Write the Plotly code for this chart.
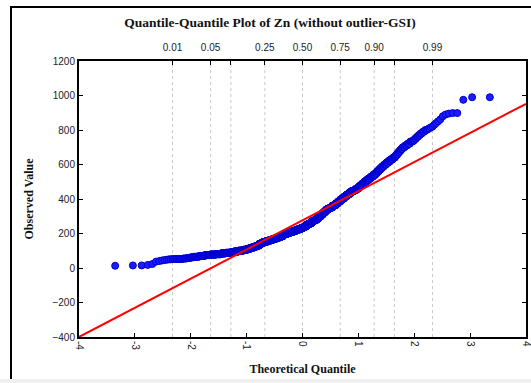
import plotly.graph_objects as go
from statistics import NormalDist

# Observed Zn values (sorted distinct levels) and how many samples share each level
zn_values = [13, 15, 18, 20, 23, 37, 40, 44, 46, 48, 50, 52,
             55, 58, 62, 65, 70, 75, 78, 80, 85, 88,
             90, 95, 100, 105, 110, 115, 120, 125, 130, 140, 145,
             150, 155, 160, 165, 170, 175, 180, 185,
             195, 200, 205, 210, 215, 220, 225, 230,
             235, 240, 250, 255, 260, 270, 275, 280, 290, 300,
             310, 320, 330, 340, 345, 350, 360, 365, 375, 385,
             395, 405, 415, 425, 435, 445, 450, 460,
             470, 480, 490, 500, 510, 520, 530, 540,
             550, 560, 570, 580, 590, 600, 610, 620, 630, 640,
             650, 660, 670, 680, 690, 700, 710, 720, 733,
             740, 750, 760, 770, 780, 790, 800,
             805, 810, 815, 820, 830, 840, 850, 862, 880, 890, 895, 898, 975, 990]
zn_counts = [1, 2, 1, 0, 1, 1, 1, 1, 1, 1, 2, 8,
             4, 4, 4, 8, 10, 11, 15, 15, 15, 15,
             15, 20, 23, 20, 15, 15, 15, 15, 15, 15, 10,
             20, 20, 20, 20, 20, 20, 18, 18,
             20, 25, 20, 25, 20, 20, 20, 20,
             16, 16, 16, 16, 16, 16, 16, 16, 16, 18,
             15, 15, 15, 15, 15, 15, 15, 15, 15, 14,
             15, 15, 15, 15, 14, 14, 14, 14,
             10, 10, 10, 10, 10, 10, 9, 9,
             6, 6, 6, 6, 6, 6, 6, 6, 6, 5,
             3, 3, 3, 3, 3, 4, 4, 4, 4,
             2, 2, 2, 2, 2, 2, 2,
             1, 1, 1, 1, 1, 1, 1, 1, 1, 1, 1, 2, 1, 2]

# Reference line (value = intercept + slope * z)
line_intercept = 276
line_slope = 169
line_z = [-4, 4]

prob_levels = [0.01, 0.05, 0.10, 0.25, 0.50, 0.75, 0.90, 0.95, 0.99]
prob_labels = ["0.01", "0.05", "", "0.25", "0.50", "0.75", "0.90", "", "0.99"]

x_ticks = [-4, -3, -2, -1, 0, 1, 2, 3, 4]
y_ticks = [-400, -200, 0, 200, 400, 600, 800, 1000, 1200]

observed = []
for v, c in zip(zn_values, zn_counts):
    observed += [v] * c
n = len(observed)
nd = NormalDist()
theo = [nd.inv_cdf((i + 0.5) / n) for i in range(n)]
prob_z = [nd.inv_cdf(p) for p in prob_levels]

W, H = 531, 383
L, R, T, B = 79, 5, 61, 46
pw, ph = W - L - R, H - T - B
def px(x):
    return (x - L) / pw
def py(y):
    return (H - B - y) / ph

fig = go.Figure()
fig.add_trace(go.Scatter(
    x=theo, y=observed, mode="markers",
    marker=dict(size=7, color="#1c1cff", line=dict(width=1, color="#0000d0")),
    showlegend=False, hoverinfo="x+y"))
fig.add_trace(go.Scatter(
    x=line_z, y=[line_intercept + line_slope * z for z in line_z],
    mode="lines", line=dict(color="#ff0000", width=2), showlegend=False))
# invisible trace for the top probability axis
fig.add_trace(go.Scatter(x=[-4, 4], y=[0, 0], xaxis="x2", mode="markers",
                         marker=dict(opacity=0), showlegend=False, hoverinfo="skip"))

tickfont = dict(family="Liberation Sans, Arial", size=10, color="#222")
titlefont = dict(family="Liberation Serif, Times New Roman", size=12, color="#111")

shapes = []
for z in prob_z:
    shapes.append(dict(type="line", xref="x", yref="paper", x0=z, x1=z, y0=0, y1=1,
                       line=dict(color="#c8c8c8", width=1, dash="dot"), layer="below"))
# outer frame
shapes.append(dict(type="rect", xref="paper", yref="paper",
                   x0=px(11), x1=px(545), y0=py(395), y1=py(7),
                   line=dict(color="black", width=2), layer="below"))
# light strip at bottom
shapes.append(dict(type="rect", xref="paper", yref="paper",
                   x0=px(0), x1=px(531), y0=py(383), y1=py(379),
                   line=dict(width=0), fillcolor="#f0f0f0", layer="below"))

fig.update_layout(
    width=W, height=H,
    margin=dict(l=L, r=R, t=T, b=B, autoexpand=False),
    paper_bgcolor="white", plot_bgcolor="white",
    title=dict(text="<b>Quantile-Quantile Plot of Zn (without outlier-GSI)</b>",
               xref="container", x=270 / W, xanchor="center",
               yref="container", y=1 - 22 / H, yanchor="middle",
               font=dict(family="Liberation Serif, Times New Roman", size=13.5, color="#111")),
    xaxis=dict(range=[-4, 4], tickvals=x_ticks, ticktext=[str(t) for t in x_ticks],
               tickangle=90, ticks="inside", ticklen=4, tickwidth=1, tickcolor="black",
               showline=True, linecolor="black", linewidth=2, mirror=True,
               showgrid=False, zeroline=False, tickfont=tickfont, automargin=False,
               ticklabeloverflow="allow",
               title=dict(text="<b>Theoretical Quantile</b>", font=titlefont, standoff=15)),
    xaxis2=dict(range=[-4, 4], overlaying="x", side="top", tickvals=prob_z,
                ticktext=prob_labels, ticks="inside", ticklen=4, tickcolor="black",
                showgrid=False, zeroline=False, showline=False, tickfont=tickfont,
                automargin=False, ticklabelstandoff=7),
    yaxis=dict(range=[-400, 1200], tickvals=y_ticks, ticks="inside", ticklen=4,
               tickcolor="black", showline=True, linecolor="black", linewidth=2,
               mirror="ticks", showgrid=False, zeroline=False, tickfont=tickfont,
               automargin=False,
               title=dict(text="<b>Observed Value</b>", font=titlefont, standoff=16)),
    shapes=shapes,
)
fig.write_html("out.html", config={"displayModeBar": False},
               post_script="document.body.style.margin='0';document.body.style.overflow='hidden';")
